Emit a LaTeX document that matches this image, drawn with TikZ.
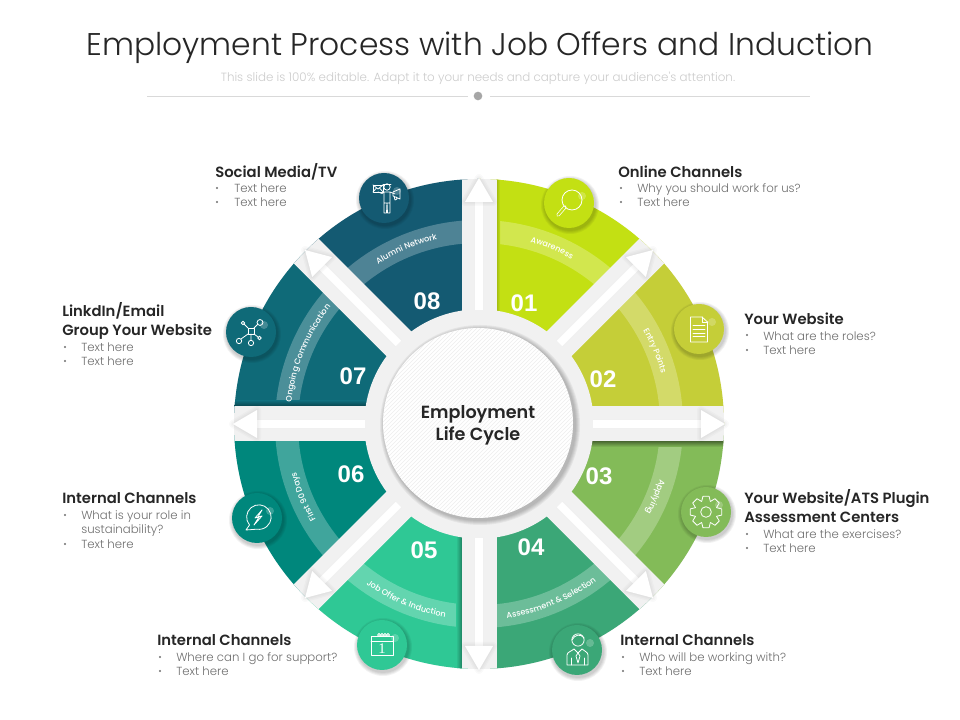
\documentclass[tikz,border=0pt]{standalone}
\usepackage{fontspec}
\setmainfont{Poppins}
\newfontfamily\lightf{Poppins Light}
\newfontfamily\medf{Poppins Medium}
\newfontfamily\semif{Poppins SemiBold}
\newfontfamily\numf{Liberation Sans}
\newfontfamily\serf{Liberation Serif}
\usetikzlibrary{decorations.text}
\definecolor{segA}{HTML}{C3E013}
\definecolor{segB}{HTML}{C5CE38}
\definecolor{segC}{HTML}{83BB58}
\definecolor{segD}{HTML}{3BA777}
\definecolor{segE}{HTML}{2FC895}
\definecolor{segF}{HTML}{00877C}
\definecolor{segG}{HTML}{0F6A78}
\definecolor{segH}{HTML}{145A72}
\definecolor{gapgrey}{HTML}{F1F1F1}
\definecolor{inkdark}{HTML}{262626}
\definecolor{inkgrey}{HTML}{6E6E6E}
\tikzset{
  headtext/.style={anchor=base west,inner sep=0pt,text=inkdark,font=\semif\fontsize{11.1}{13}\selectfont},
  bodytext/.style={anchor=base west,inner sep=0pt,text=inkgrey,font=\lightf\fontsize{8.8}{10}\selectfont},
  numtext/.style={inner sep=0pt,text=white,font=\numf\bfseries\fontsize{18}{20}\selectfont},
  iconline/.style={draw=white,line width=0.6pt,line join=round,line cap=round},
  shaftline/.style={draw=white,line width=5.6pt},
  bandlabel/.style={decorate}
}
\newcommand\wedgeseg[3]{\fill[#1] (0,0) -- (#2:245) arc[start angle=#2,end angle=#3,radius=183.75pt] -- cycle;}
\newcommand\bandfont{\color{white}\medf\fontsize{6.1}{7}\selectfont}
\newcommand\arclabel[4]{\path[decorate,decoration={text along path,text align=center,text={|\bandfont|#4}}] (#2:#1) arc[start angle=#2,end angle=#3,radius=#1*0.75pt];}
\newcommand\iconcirc[4]{%
  \foreach \k in {29,28,27,26} {\fill[black,opacity=.05] (#3+1,720-#4-2) circle[radius=\k*0.75pt];}
  \node[circle,fill=#2,minimum size=37.5pt,inner sep=0pt] (#1) at (#3,720-#4) {};
  \fill[white,opacity=.22] (#1.center) ++(13,7) circle[radius=3pt];
}
\begin{document}
\begin{tikzpicture}[x=0.75pt,y=0.75pt]
\useasboundingbox (0,0) rectangle (960,720);
\fill[white] (0,0) rectangle (960,720);
% title
\node[inner sep=0pt,text=inkdark,font=\lightf\fontsize{23.5}{28}\selectfont] (title) at (480,720-48) {Employment Process with Job Offers and Induction};
\node[inner sep=0pt,text=black!20,font=\lightf\fontsize{8.9}{10}\selectfont] (subtitle) at (478,720-78) {This slide is 100\% editable. Adapt it to your needs and capture your audience's attention.};
\coordinate (ruleL) at (147,720-96);
\coordinate (ruleR) at (810,720-96);
\node[circle,fill=black!35,minimum size=6.5pt,inner sep=0pt] (ruledot) at (478,720-96) {};
\draw[black!15,line width=0.6pt] (ruleL) -- (468,720-96);
\draw[black!15,line width=0.6pt] (490,720-96) -- (ruleR);
% wheel
\begin{scope}[shift={(479,720-424)}]
  \fill[gapgrey] (0,0) circle[radius=183.75pt];
  \wedgeseg{segA}{90}{45}
  \wedgeseg{segB}{45}{0}
  \wedgeseg{segC}{0}{-45}
  \wedgeseg{segD}{-45}{-90}
  \wedgeseg{segE}{-90}{-135}
  \wedgeseg{segF}{-135}{-180}
  \wedgeseg{segG}{180}{135}
  \wedgeseg{segH}{135}{90}
  \fill[white,opacity=.25,even odd rule] (0,0) circle[radius=153pt] (0,0) circle[radius=135.75pt];
  % dark edge shading
  \begin{scope}
    \clip (0,0) circle[radius=183.75pt];
    \shade[top color=segC!55!black,bottom color=segC] (17,-17) rectangle (245,-23);
    \shade[left color=segE,right color=segE!65!black] (-23,-245) rectangle (-17,-110);
    \shade[top color=segG,bottom color=segG!60!black] (-245,23) rectangle (-90,17);
    \shade[left color=segA!80!black,right color=segA] (17,245) rectangle (21,100);
    \foreach \a in {0,45,90,135} {
      \fill[gapgrey,rotate=\a] (-260,-17.5) rectangle (260,17.5);
    }
  \end{scope}
  \fill[gapgrey] (0,0) circle[radius=86pt];
  % arrows
  \foreach \a in {0,45,...,315} {
    \begin{scope}[rotate=\a]
      \coordinate (s\a) at (114,0);
      \coordinate (t\a) at (224,0);
      \coordinate (p\a) at (246,0);
      \draw[black!6,line width=7pt] (s\a) -- (t\a);
      \draw[shaftline] (s\a) -- (t\a);
      \foreach \w in {6,4,2} {\draw[black,opacity=.02,line width=\w pt,line join=round] (p\a) -- (222,14) -- (222,-14) -- cycle;}
      \fill[white] (p\a) -- (222,14) -- (222,-14) -- cycle;
    \end{scope}
  }
  % arc labels
  \arclabel{189}{90}{45}{Awareness}
  \arclabel{189}{45}{0}{Entry Points}
  \arclabel{189}{0}{-45}{Applying}
  \arclabel{196}{-90}{-45}{Assessment {\&} Selection}
  \arclabel{196}{-135}{-90}{Job Offer {\&} Induction}
  \arclabel{189}{225}{180}{First 90 Days}
  \arclabel{189}{180}{135}{Ongoing Communication}
  \arclabel{189}{135}{90}{Alumni Network}
\end{scope}
% hub
\foreach \k in {100,99,98,97,96} {\fill[black,opacity=.05] (480,720-421-4) circle[radius=\k*0.75pt];}
\fill[white] (478,720-423) circle[radius=71.25pt];
\begin{scope}
  \clip (478,720-423) circle[radius=71.25pt];
  \foreach \i in {-280,-276,...,280} {\draw[black!7,line width=0.35pt] (478+\i-200,297-200) -- (478+\i+200,297+200);}
\end{scope}
\node[circle,minimum size=142.5pt,inner sep=0pt,align=center,text=inkdark,font=\semif\fontsize{13.2}{16.5}\selectfont] (hub) at (478,720-425) {Employment\\Life Cycle};
% numbers
\node[numtext] (n1) at (524,720-303) {01};
\node[numtext] (n2) at (603,720-379) {02};
\node[numtext] (n3) at (599,720-476) {03};
\node[numtext] (n4) at (531,720-547) {04};
\node[numtext] (n5) at (424,720-550) {05};
\node[numtext] (n6) at (351,720-474) {06};
\node[numtext] (n7) at (353,720-376) {07};
\node[numtext] (n8) at (427,720-301) {08};
% icons
\iconcirc{iA}{segA}{569}{203}
\iconcirc{iB}{segB}{699}{329}
\iconcirc{iC}{segC}{706}{512}
\iconcirc{iD}{segD}{577}{650}
\iconcirc{iE}{segE}{382}{645}
\iconcirc{iF}{segF}{257}{518}
\iconcirc{iG}{segG}{251}{332}
\iconcirc{iH}{segH}{384}{198}
% magnifier
\begin{scope}[shift={(iA.center)}]
  \draw[iconline] (3,3) circle[radius=7.5pt];
  \draw[white,line width=2.6pt,line cap=round] (-4,-4) -- (-11,-12);
  \draw[segA,line width=1.5pt,line cap=round] (-4.5,-4.5) -- (-11,-12);
\end{scope}
% document
\begin{scope}[shift={(iB.center)}]
  \draw[iconline] (-8.5,12) -- (3,12) -- (8.5,7) -- (8.5,-13) -- (-8.5,-13) -- cycle;
  \draw[iconline] (3,12) -- (3,7) -- (8.5,7);
  \foreach \y in {4,0,-4,-7} {\draw[iconline] (-6,\y) -- (6,\y);}
\end{scope}
% gear
\begin{scope}[shift={(iC.center)}]
  \draw[iconline] (0,0) circle[radius=4pt];
  \foreach \t in {0,45,...,315} {
    \draw[iconline] (\t-22:11.5) -- (\t-11:16) -- (\t+11:16) -- (\t+22:11.5) -- (\t+23:11.5);
  }
\end{scope}
% person with tie
\begin{scope}[shift={(iD.center)}]
  \draw[iconline] (1,10) circle[radius=4.6pt];
  \draw[iconline] (-5,10) .. controls (-3,15) and (4,17) .. (7,12);
  \draw[iconline] (-10,-15) -- (-10,-5) .. controls (-10,-2) and (-5,-1) .. (-3,1) -- (1,-3) -- (5,1) .. controls (7,-1) and (11,-2) .. (11,-5) -- (11,-15) -- cycle;
  \draw[iconline] (1,-3) -- (-1,-6) -- (1,-13) -- (3,-6) -- cycle;
  \draw[iconline] (-6,-8) -- (-6,-15) (7,-8) -- (7,-15);
\end{scope}
% calendar
\begin{scope}[shift={(iE.center)}]
  \draw[iconline] (-11,9) rectangle (11,-10);
  \draw[iconline] (-11,4) -- (11,4);
  \foreach \x in {-3,0,3,6} {\draw[iconline] (\x,10) circle[radius=1.1pt];}
  \node[inner sep=0pt,text=white,font=\serf\fontsize{11}{12}\selectfont] (calnum) at (0,-3.5) {1};
\end{scope}
% bubble
\begin{scope}[shift={(iF.center)}]
  \draw[iconline] (-7.5,-7) arc[start angle=220,end angle=-100,radius=9.2pt] -- (-11,-12) -- cycle;
  \draw[iconline] (5,8) -- (-2,0) -- (2,1) -- (-3,-7) -- (5,2) -- (1,1) -- cycle;
\end{scope}
% network
\begin{scope}[shift={(iG.center)}]
  \draw[iconline] (-3,-2) rectangle (3,4);
  \draw[iconline] (-3,4) -- (-7,8) (3,4) -- (7,8) (-3,-2) -- (-10,-7) (0,-2) -- (0,-8) (3,-2) -- (7,-5);
  \draw[iconline] (-8,9) circle[radius=1.3pt];
  \draw[iconline] (9,9.5) circle[radius=2.2pt];
  \draw[iconline] (-12,-9) circle[radius=2pt];
  \draw[iconline] (0,-11) circle[radius=2pt];
  \draw[iconline] (8.5,-6) circle[radius=1.3pt];
\end{scope}
% person with mail
\begin{scope}[shift={(iH.center)}]
  \draw[iconline] (-11,6) rectangle (-1,13);
  \draw[iconline] (-11,13) -- (-6,9) -- (-1,13) (-11,6) -- (-7.5,10) (-1,6) -- (-4.5,10);
  \draw[iconline] (3,11) circle[radius=2.4pt];
  \draw[iconline] (-1,13.5) -- (7,13.5);
  \draw[iconline] (-6,6) -- (-2,4.5) -- (0,6) -- (6,6) -- (11,4) (0,6) -- (0,-5) -- (6,-5) -- (6,6) (0,-5) -- (0,-15) -- (2.5,-15) -- (3,-5) (3,-5) -- (3.5,-15) -- (6,-15) -- (6,-5);
  \draw[iconline] (9,2) -- (9,6) -- (16,9) -- (16,-1) -- cycle (10,2) -- (11,-2) -- (13,-1) -- (12.5,1);
\end{scope}
% callouts
\node[headtext] (t8) at (215,720-178) {Social Media/TV};
\fill[inkgrey] (217,720-188) circle[radius=.8pt] (217,720-202) circle[radius=.8pt];
\node[bodytext] (t8a) at (234,720-193) {Text here};
\node[bodytext] (t8b) at (234,720-207) {Text here};
\node[headtext] (t1) at (618,720-178) {Online Channels};
\fill[inkgrey] (621,720-188) circle[radius=.8pt] (621,720-202) circle[radius=.8pt];
\node[bodytext] (t1a) at (637,720-193) {Why you should work for us?};
\node[bodytext] (t1b) at (637,720-207) {Text here};
\node[headtext] (t2) at (744,720-325) {Your Website};
\fill[inkgrey] (747,720-335) circle[radius=.8pt] (747,720-350) circle[radius=.8pt];
\node[bodytext] (t2a) at (763,720-341) {What are the roles?};
\node[bodytext] (t2b) at (763,720-355) {Text here};
\node[headtext] (t3) at (744,720-504) {Your Website/ATS Plugin};
\node[headtext] (t3c) at (744,720-523) {Assessment Centers};
\fill[inkgrey] (747,720-534) circle[radius=.8pt] (747,720-548) circle[radius=.8pt];
\node[bodytext] (t3a) at (763,720-539) {What are the exercises?};
\node[bodytext] (t3b) at (763,720-553) {Text here};
\node[headtext] (t4) at (620,720-646) {Internal Channels};
\fill[inkgrey] (623,720-657) circle[radius=.8pt] (623,720-671) circle[radius=.8pt];
\node[bodytext] (t4a) at (639,720-662) {Who will be working with?};
\node[bodytext] (t4b) at (639,720-676) {Text here};
\node[headtext] (t5) at (157,720-646) {Internal Channels};
\fill[inkgrey] (160,720-657) circle[radius=.8pt] (160,720-671) circle[radius=.8pt];
\node[bodytext] (t5a) at (176,720-662) {Where can I go for support?};
\node[bodytext] (t5b) at (176,720-676) {Text here};
\node[headtext] (t6) at (62,720-504) {Internal Channels};
\fill[inkgrey] (65,720-515) circle[radius=.8pt] (65,720-544) circle[radius=.8pt];
\node[bodytext] (t6a) at (81,720-520) {What is your role in};
\node[bodytext] (t6c) at (81,720-534) {sustainability?};
\node[bodytext] (t6b) at (81,720-549) {Text here};
\node[headtext] (t7) at (62,720-317) {LinkdIn/Email};
\node[headtext] (t7c) at (62,720-336) {Group Your Website};
\fill[inkgrey] (65,720-347) circle[radius=.8pt] (65,720-361) circle[radius=.8pt];
\node[bodytext] (t7a) at (81,720-352) {Text here};
\node[bodytext] (t7b) at (81,720-366) {Text here};
\end{tikzpicture}
\end{document}
